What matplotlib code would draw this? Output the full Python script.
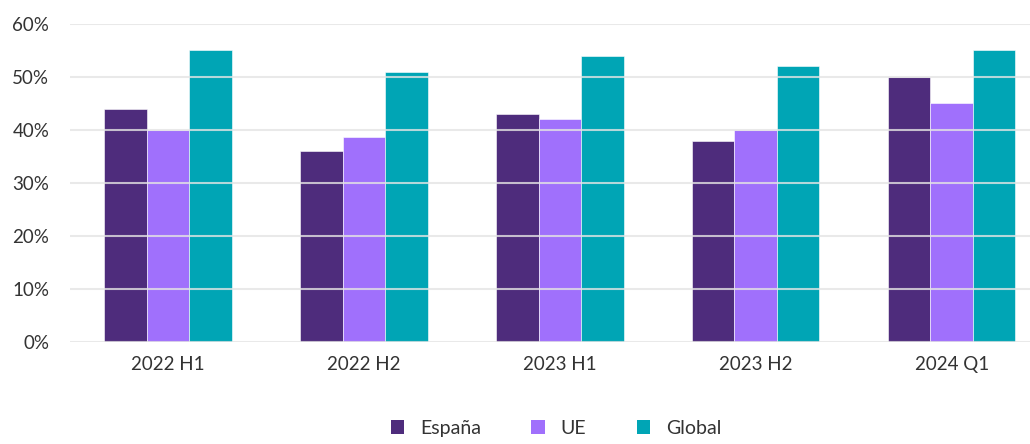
import matplotlib
matplotlib.use("Agg")
import matplotlib.pyplot as plt
import numpy as np
from matplotlib.patches import Patch

categories = ["2022 H1", "2022 H2", "2023 H1", "2023 H2", "2024 Q1"]
espana = [44, 36, 43, 38, 50]
ue = [40, 38.6, 42, 40, 45]
global_ = [55, 51, 54, 52, 55]
series_names = ["España", "UE", "Global"]
colors = ["#4E2C7C", "#A070FC", "#00A5B5"]
yticks = [0, 10, 20, 30, 40, 50, 60]

plt.rcParams['font.family'] = ['Lato', 'DejaVu Sans']

fig = plt.figure(figsize=(10.3, 4.44), dpi=100)
ax = fig.add_axes([70/1030, 1-342/444, 960/1030, (342-24)/444])

x = np.arange(len(categories))
w = 0.217
for i, (vals, c) in enumerate(zip([espana, ue, global_], colors)):
    ax.bar(x + (i-1)*w, vals, w, color=c, edgecolor='white', linewidth=0.4, zorder=1)

ax.set_ylim(0, 60)
ax.set_xlim(-0.5, 4.4)
ax.set_yticks(yticks)
ax.set_yticklabels([f"{v}%" for v in yticks])
ax.set_xticks(x)
ax.set_xticklabels(categories)
ax.yaxis.grid(True, color='#e4e4e4', linewidth=1.5, alpha=0.8, zorder=2)
ax.set_axisbelow(False)
for s in ax.spines.values():
    s.set_visible(False)
ax.tick_params(axis='both', length=0, labelsize=13.5, colors='#333333')
ax.tick_params(axis='y', pad=15)
ax.tick_params(axis='x', pad=10)

handles = [Patch(facecolor=c, edgecolor='none') for c in colors]
fig.legend(handles, series_names, loc='center', bbox_to_anchor=(556/1030, 1-428/444),
           ncol=3, frameon=False, fontsize=14, handlelength=0.7, handleheight=0.7,
           columnspacing=2.6, handletextpad=0.8, labelcolor='#333333')

fig.savefig("out.png", dpi=100)
